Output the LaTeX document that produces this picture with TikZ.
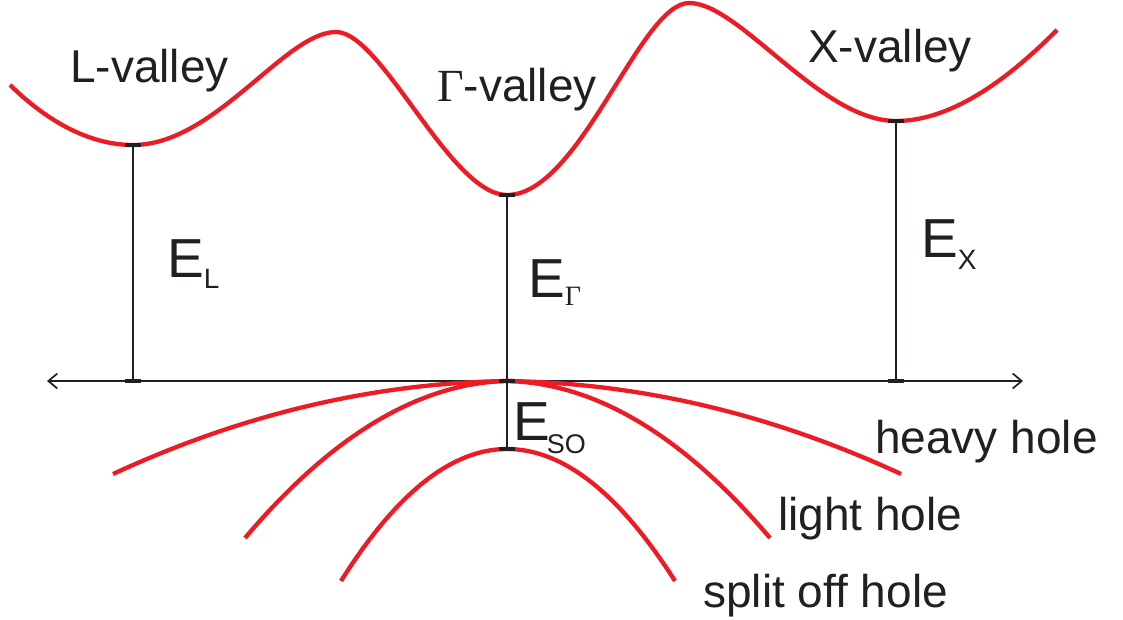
\documentclass[tikz,border=0pt]{standalone}
\usepackage{fontspec}
\setmainfont{Liberation Sans}
\newfontfamily\serifgr{Liberation Serif}
\usetikzlibrary{arrows.meta}
\definecolor{bandred}{RGB}{237,28,36}
\definecolor{ink}{RGB}{35,31,32}
\begin{document}
\begin{tikzpicture}[x=1pt,y=-1pt,
  band/.style={draw=bandred,line width=4.3pt},
  gapline/.style={draw=ink,line width=2.3pt},
  tickmark/.style={draw=ink,line width=3.4pt},
  axisline/.style={draw=ink,line width=1.3pt,
    {Straight Barb[length=9pt,width=15pt,line width=1.7pt]}-{Straight Barb[length=9pt,width=15pt,line width=1.7pt]}},
  lbl/.style={text=ink,inner sep=0pt,anchor=base west,font=\fontsize{46}{52}\selectfont},
  elbl/.style={text=ink,inner sep=0pt,anchor=base west,font=\fontsize{55}{60}\selectfont}]
\useasboundingbox (0,0) rectangle (1123,620);

% key points
\coordinate (Lmin) at (133,145);
\coordinate (Gmin) at (507,195);
\coordinate (Xmin) at (896,121);
\coordinate (Lax) at (133,381);
\coordinate (Gax) at (507,381);
\coordinate (Xax) at (896,381);
\coordinate (SOtop) at (507,449);
\coordinate (axL) at (47,381);
\coordinate (axR) at (1023,381);

% k axis
\draw[axisline] (axL) -- (axR);

% conduction band
\draw[band] (10,85) .. controls (50,124) and (92,145) .. (Lmin)
  .. controls (215,145) and (285,32) .. (336,32)
  .. controls (382,32) and (450,195) .. (Gmin)
  .. controls (580,195) and (640,3) .. (689,3)
  .. controls (740,3) and (820,121) .. (Xmin)
  .. controls (960,121) and (1022,65) .. (1057,30);

% valence bands
\draw[band] (113,474) .. controls (244.3,413.3) and (375.7,383) .. (Gax)
  .. controls (638.3,383) and (769.7,413.3) .. (901,474);
\draw[band] (245,538) .. controls (332.3,434.7) and (419.7,383) .. (Gax)
  .. controls (594.7,383) and (682.3,434.7) .. (770,538);
\draw[band] (341,581) .. controls (396.3,493) and (451.7,449) .. (SOtop)
  .. controls (563,449) and (619,493) .. (675,581);

% energy gaps
\draw[gapline] (Lmin) -- (Lax);
\draw[gapline] (Gmin) -- (Gax) -- (SOtop);
\draw[gapline] (Xmin) -- (Xax);
\foreach \p in {Lmin,Lax,Gmin,Gax,SOtop,Xmin,Xax}
  \draw[tickmark] ([xshift=-8pt]\p) -- ([xshift=8pt]\p);

% labels
\node[lbl] (Llab) at (70,83) {L-valley};
\node[lbl] (Glab) at (437,102) {{\serifgr Γ}-valley};
\node[lbl] (Xlab) at (808,63) {X-valley};
\node[lbl] (hh) at (875,453) {heavy hole};
\node[lbl] (lh) at (778,530) {light hole};
\node[lbl] (soh) at (703,607) {split off hole};

\node[elbl] (EL) at (167,277) {E\raisebox{-11pt}{\fontsize{28}{28}\selectfont L}};
\node[elbl] (EG) at (528,297) {E\raisebox{-8pt}{\fontsize{28}{28}\selectfont\serifgr Γ}};
\node[elbl] (EX) at (921,258) {E\raisebox{-12pt}{\fontsize{28}{28}\selectfont X}};
\node[elbl] (ESO) at (513,440) {E\kern-3pt\raisebox{-13pt}{\fontsize{27}{27}\selectfont SO}};
\end{tikzpicture}
\end{document}
